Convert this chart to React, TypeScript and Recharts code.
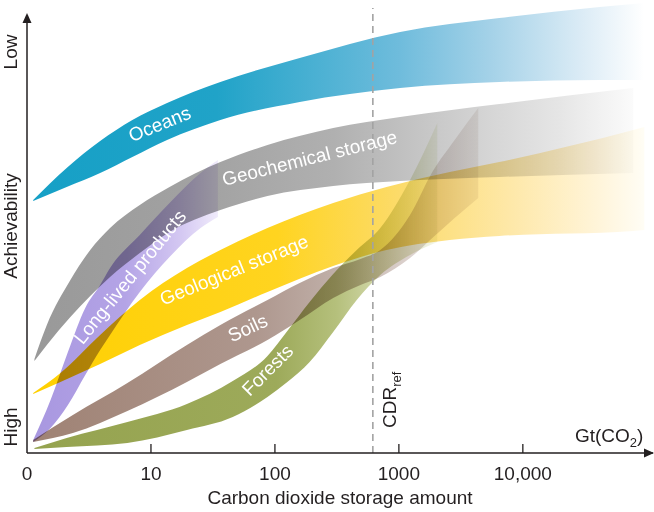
import { Area, ComposedChart, Label, ReferenceDot, ReferenceLine, XAxis, YAxis } from 'recharts'

// x values are log10 of the stored amount (Gt CO2), y is achievability (arbitrary units, 0 = high)
const amountTicks = [0, 1, 2, 3, 4]
const amountLabels = ['0', '10', '100', '1000', '10,000']
const cdrRef = 2.79

const oceansX = [0.05, 0.32, 0.59, 0.85, 1.13, 1.56, 2.2, 3.01, 3.81, 4.62, 4.98]
const oceansLow = [252, 266, 280, 296, 313, 333, 351, 365, 371, 373, 373]
const oceansHigh = [253, 285, 312, 333, 350, 371, 395, 421, 435, 446, 450]

const geochemX = [0.06, 0.16, 0.35, 0.51, 0.67, 0.91, 1.15, 1.56, 1.94, 2.47, 3.01, 3.81, 4.89]
const geochemLow = [92, 108, 136, 157, 176, 200, 221, 243, 257, 267, 272, 276, 280]
const geochemHigh = [94, 128, 173, 203, 225, 248, 266, 291, 308, 325, 336, 349, 365]

const productsX = [0.05, 0.19, 0.33, 0.47, 0.59, 0.67, 0.91, 1.15, 1.4, 1.54]
const productsLow = [11, 25, 48, 78, 103, 118, 161, 196, 225, 236]
const productsHigh = [13, 53, 101, 145, 168, 185, 218, 250, 280, 293]

const geologicalX = [0.05, 0.27, 0.59, 0.91, 1.29, 1.56, 1.94, 2.47, 2.9, 3.41, 3.81, 4.89, 4.98]
const geologicalLow = [59, 71, 89, 108, 128, 141, 161, 187, 203, 213, 217, 222, 223]
const geologicalHigh = [60, 80, 118, 153, 185, 203, 225, 250, 266, 281, 291, 323, 326]

const soilsX = [0.05, 0.37, 0.81, 1.29, 1.56, 1.94, 2.2, 2.47, 2.69, 2.85, 3.09, 3.27, 3.45, 3.64]
const soilsLow = [11, 20, 42, 71, 89, 113, 133, 155, 168, 176, 195, 215, 235, 255]
const soilsHigh = [13, 38, 70, 108, 128, 153, 170, 185, 194, 203, 238, 281, 313, 345]

const forestsX = [0.06, 0.32, 0.81, 1.29, 1.66, 1.94, 2.1, 2.28, 2.47, 2.66, 2.85, 3.09, 3.31]
const forestsLow = [4, 6, 10, 23, 36, 56, 71, 91, 121, 153, 178, 198, 211]
const forestsHigh = [5, 15, 31, 49, 72, 97, 122, 151, 179, 203, 225, 273, 330]

const INK = '#231f20'
const FONT = '"Liberation Sans", Arial, Helvetica, sans-serif'

const toRows = (xs: number[], lo: number[], hi: number[]) =>
  xs.map((x, i) => ({ x, range: [lo[i], hi[i]] }))

const bands = [
  {
    key: 'oceans',
    data: toRows(oceansX, oceansLow, oceansHigh),
    stops: [[0, '#16a0c6'], [0.3, '#20a3c8'], [0.6, '#6fbcdc'], [0.75, '#a5d2e8'], [0.9, '#dcecf6'], [1, '#ffffff']]
  },
  {
    key: 'geochem',
    data: toRows(geochemX, geochemLow, geochemHigh),
    stops: [[0, '#999999'], [0.3, '#a3a3a3'], [0.5, '#b0b0b0'], [0.7, '#cdcdcd'], [0.88, '#e6e6e6'], [1, '#fbfbfb']]
  },
  {
    key: 'geological',
    data: toRows(geologicalX, geologicalLow, geologicalHigh),
    stops: [[0, '#ffd000'], [0.4, '#ffd420'], [0.6, '#fcdb6a'], [0.78, '#fee8a8'], [0.92, '#fff4d8'], [1, '#fffdf5']]
  },
  {
    key: 'soils',
    data: toRows(soilsX, soilsLow, soilsHigh),
    stops: [[0, '#9f8274'], [0.5, '#ae978e'], [0.7, '#c2b2ab'], [0.85, '#ddd3cf'], [1, '#f2eeec']]
  },
  {
    key: 'forests',
    data: toRows(forestsX, forestsLow, forestsHigh),
    stops: [[0, '#95a34f'], [0.6, '#9daa5a'], [0.75, '#b5c07c'], [0.88, '#d8ddb3'], [1, '#f4f6ea']]
  },
  {
    key: 'products',
    data: toRows(productsX, productsLow, productsHigh),
    stops: [[0, '#a897e0'], [0.5, '#b4a4e6'], [0.8, '#d4c8f2'], [1, '#f0ebfb']]
  }
]

// white labels written along each band
const bandNotes = [
  { text: 'Oceans', x: 1.07, y: 329, angle: -22 },
  { text: 'Geochemical storage', x: 2.28, y: 295, angle: -14 },
  { text: 'Long-lived products', x: 0.83, y: 176, angle: -51 },
  { text: 'Geological storage', x: 1.67, y: 183, angle: -22 },
  { text: 'Soils', x: 1.78, y: 125, angle: -25 },
  { text: 'Forests', x: 1.94, y: 83, angle: -45 }
]

const sideNotes = [
  { text: 'Low', y: 401 },
  { text: 'Achievability', y: 227 },
  { text: 'High', y: 26 }
]

export default function App() {
  return (
    <div style={{ position: 'absolute', left: 0, top: 0, width: 654, height: 512, background: '#fff' }}>
      <style>{`.band-area { mix-blend-mode: multiply; }`}</style>
      <ComposedChart width={654} height={512} margin={{ top: 0, right: 1, bottom: 0, left: 27 }}>
        <defs>
          {bands.map((b) => (
            <linearGradient key={b.key} id={`g-${b.key}`} x1="0" y1="0" x2="1" y2="0">
              {b.stops.map(([o, c]) => (
                <stop key={String(o)} offset={o as number} stopColor={c as string} />
              ))}
            </linearGradient>
          ))}
        </defs>
        <XAxis
          type="number"
          dataKey="x"
          domain={[0, 5.05]}
          allowDataOverflow
          ticks={amountTicks}
          interval={0}
          tickFormatter={(v: number) => amountLabels[amountTicks.indexOf(v)]}
          tickLine={false}
          axisLine={{ stroke: INK, strokeWidth: 1.5 }}
          height={59}
          tickMargin={8}
          tick={{ fill: INK, fontSize: 19, fontFamily: FONT }}
        >
          <Label
            value="Carbon dioxide storage amount"
            position="insideBottom"
            offset={8}
            fill={INK}
            fontSize={19}
            fontFamily={FONT}
          />
        </XAxis>
        <YAxis type="number" domain={[0, 453]} allowDataOverflow hide />

        {bands.map((b) => (
          <Area
            key={b.key}
            data={b.data}
            dataKey="range"
            type="monotone"
            stroke="none"
            fill={`url(#g-${b.key})`}
            fillOpacity={1}
            className="band-area"
            dot={false}
            activeDot={false}
            isAnimationActive={false}
          />
        ))}

        <ReferenceLine
          segment={[{ x: cdrRef, y: 0 }, { x: cdrRef, y: 445 }]}
          stroke="#a3a3a3"
          strokeWidth={1.6}
          strokeDasharray="7 5"
        />
        <ReferenceLine
          segment={[{ x: 0, y: 0 }, { x: 0, y: 432 }]}
          stroke={INK}
          strokeWidth={1.5}
          ifOverflow="visible"
        />
        {amountTicks.slice(1).map((t) => (
          <ReferenceLine key={t} segment={[{ x: t, y: 0 }, { x: t, y: 9 }]} stroke={INK} strokeWidth={1.3} />
        ))}
        <ReferenceDot
          x={5.05}
          y={0}
          r={0}
          ifOverflow="visible"
          shape={(p: any) => (
            <polygon points={`${p.cx - 9},${p.cy - 4.5} ${p.cx + 1},${p.cy} ${p.cx - 9},${p.cy + 4.5}`} fill={INK} />
          )}
        />
        <ReferenceDot
          x={0}
          y={439}
          r={0}
          ifOverflow="visible"
          shape={(p: any) => (
            <polygon points={`${p.cx - 4.5},${p.cy + 9} ${p.cx},${p.cy - 1} ${p.cx + 4.5},${p.cy + 9}`} fill={INK} />
          )}
        />

        {bandNotes.map((n) => (
          <ReferenceDot
            key={n.text}
            x={n.x}
            y={n.y}
            r={0}
            ifOverflow="visible"
            shape={(p: any) => (
              <text
                x={p.cx}
                y={p.cy}
                transform={`rotate(${n.angle} ${p.cx} ${p.cy})`}
                textAnchor="middle"
                dominantBaseline="central"
                fill="#fff"
                fontSize={19}
                fontFamily={FONT}
              >
                {n.text}
              </text>
            )}
          />
        ))}

        {sideNotes.map((n) => (
          <ReferenceDot
            key={n.text}
            x={-0.083}
            y={n.y}
            r={0}
            ifOverflow="visible"
            shape={(p: any) => (
              <text
                x={p.cx}
                y={p.cy}
                transform={`rotate(-90 ${p.cx} ${p.cy})`}
                textAnchor="middle"
                fill={INK}
                fontSize={19}
                fontFamily={FONT}
              >
                {n.text}
              </text>
            )}
          />
        ))}

        <ReferenceDot
          x={2.98}
          y={25}
          r={0}
          ifOverflow="visible"
          shape={(p: any) => (
            <text
              x={p.cx}
              y={p.cy}
              transform={`rotate(-90 ${p.cx} ${p.cy})`}
              fill={INK}
              fontSize={19}
              fontFamily={FONT}
            >
              CDR
              <tspan fontSize={13} dy={5}>ref</tspan>
            </text>
          )}
        />
        <ReferenceDot
          x={4.42}
          y={11}
          r={0}
          ifOverflow="visible"
          shape={(p: any) => (
            <text x={p.cx} y={p.cy} fill={INK} fontSize={19} fontFamily={FONT}>
              Gt(CO
              <tspan fontSize={13} dy={5}>2</tspan>
              <tspan dy={-5}>)</tspan>
            </text>
          )}
        />
      </ComposedChart>
    </div>
  )
}
